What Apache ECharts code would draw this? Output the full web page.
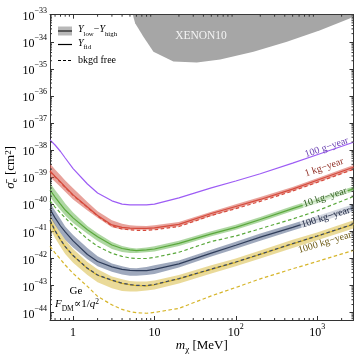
<!DOCTYPE html>
<html><head><meta charset="utf-8">
<script src="https://cdn.jsdelivr.net/npm/echarts@6/dist/echarts.min.js"></script>
<style>html,body{margin:0;padding:0;background:#fff}#c{width:357px;height:355px}</style>
</head><body><div id="c"></div>
<script>
// Dark-matter mass grid (MeV)
const mass = [0.52, 0.6, 0.7, 0.8, 1, 1.5, 2, 3, 4, 5, 6, 8, 10, 20, 50, 100, 200, 500, 1000, 2800];
// All cross sections below are log10(sigma_e / cm^2)
const g100Fid   = [-37.62,-37.81,-38.05,-38.29,-38.68,-39.25,-39.58,-39.87,-39.99,-40.02,-40.02,-40.02,-39.99,-39.76,-39.39,-39.14,-38.87,-38.48,-38.17,-37.71];

const kg1Fid    = [-38.77,-38.97,-39.17,-39.36,-39.65,-40.10,-40.41,-40.76,-40.85,-40.88,-40.89,-40.89,-40.87,-40.74,-40.34,-40.08,-39.82,-39.44,-39.11,-38.63];
const kg1Free   = [-38.79,-38.99,-39.19,-39.38,-39.67,-40.11,-40.43,-40.80,-40.91,-40.94,-40.96,-40.96,-40.94,-40.82,-40.41,-40.16,-39.89,-39.51,-39.19,-38.71];
const kg1Low    = [-38.99,-39.17,-39.36,-39.54,-39.82,-40.23,-40.50,-40.85,-40.93,-40.94,-40.94,-40.94,-40.93,-40.81,-40.43,-40.15,-39.87,-39.51,-39.19,-38.71];
const kg1High   = [-38.49,-38.71,-38.93,-39.12,-39.41,-39.91,-40.26,-40.59,-40.72,-40.77,-40.79,-40.80,-40.77,-40.65,-40.27,-40.00,-39.73,-39.36,-39.04,-38.55];

const kg10Fid   = [-39.47,-39.73,-39.99,-40.21,-40.50,-40.94,-41.20,-41.50,-41.63,-41.68,-41.71,-41.68,-41.65,-41.44,-41.09,-40.85,-40.56,-40.16,-39.86,-39.43];
const kg10Free  = [-39.87,-40.10,-40.32,-40.50,-40.80,-41.28,-41.55,-41.81,-41.92,-41.98,-42.00,-42.00,-41.96,-41.77,-41.37,-41.17,-40.90,-40.54,-40.24,-39.71];
const kg10Low   = [-39.73,-39.97,-40.21,-40.41,-40.69,-41.09,-41.35,-41.65,-41.76,-41.80,-41.80,-41.77,-41.74,-41.54,-41.18,-40.94,-40.65,-40.25,-39.97,-39.52];
const kg10High  = [-39.21,-39.47,-39.73,-39.97,-40.30,-40.80,-41.07,-41.39,-41.54,-41.60,-41.63,-41.59,-41.55,-41.34,-40.99,-40.75,-40.47,-40.06,-39.78,-39.34];

const kg100Fid  = [-40.17,-40.50,-40.80,-41.02,-41.35,-41.85,-42.11,-42.31,-42.40,-42.44,-42.45,-42.45,-42.40,-42.20,-41.80,-41.51,-41.21,-40.85,-40.56,-40.13];
const kg100Free = [-40.58,-40.97,-41.30,-41.56,-41.89,-42.36,-42.61,-42.80,-42.91,-42.96,-42.99,-43.00,-42.96,-42.74,-42.39,-42.13,-41.84,-41.45,-41.17,-40.73];
const kg100Low  = [-40.47,-40.76,-41.06,-41.31,-41.59,-42.03,-42.29,-42.49,-42.59,-42.64,-42.64,-42.61,-42.57,-42.33,-41.93,-41.64,-41.34,-40.97,-40.69,-40.25];
const kg100High = [-39.95,-40.24,-40.54,-40.82,-41.13,-41.61,-41.92,-42.18,-42.29,-42.35,-42.36,-42.31,-42.25,-42.07,-41.68,-41.38,-41.08,-40.72,-40.43,-40.00];

const kg1000Fid  = [-40.63,-40.98,-41.31,-41.57,-41.90,-42.37,-42.62,-42.81,-42.92,-42.97,-43.00,-43.01,-42.97,-42.75,-42.40,-42.14,-41.85,-41.46,-41.18,-40.74];
const kg1000Free = [-41.55,-41.79,-42.03,-42.24,-42.55,-43.03,-43.40,-43.71,-43.88,-43.96,-44.00,-44.02,-43.99,-43.84,-43.38,-43.07,-42.75,-42.38,-42.11,-41.70];
const kg1000Low  = [-40.89,-41.24,-41.57,-41.83,-42.16,-42.61,-42.88,-43.10,-43.20,-43.22,-43.22,-43.18,-43.14,-42.92,-42.55,-42.29,-42.00,-41.61,-41.33,-40.89];
const kg1000High = [-40.39,-40.72,-41.06,-41.31,-41.65,-42.13,-42.40,-42.66,-42.77,-42.83,-42.85,-42.85,-42.81,-42.61,-42.25,-42.00,-41.70,-41.31,-41.04,-40.59];

// XENON10 excluded region lower boundary
const xenonMass  = [5.42, 5.79, 7.32, 9.72, 17.1, 33.2, 64.3, 165, 425, 1091, 2553, 2800];
const xenonSigma = [-33.00,-33.32,-33.81,-34.37,-34.73,-34.76,-34.65,-34.37,-34.00,-33.57,-33.13,-33.00];

const X_MIN = Math.log10(0.52), X_MAX = Math.log10(2800);
const Y_MIN = -44.27, Y_MAX = -33;
const FONT = '"Liberation Serif","DejaVu Serif",serif';
const FRAME = '#333';

const lx = mass.map(m => Math.log10(m));

function lineSeries(vals, color, dashed, z) {
  return {
    type: 'line', silent: true, symbol: 'none', showSymbol: false, z: z || 4,
    data: vals.map((v, i) => [lx[i], v]),
    lineStyle: { color: color, width: 1.2, type: dashed ? [3.5, 2.5] : 'solid' }
  };
}
function bandSeries(lo, hi, color) {
  return {
    type: 'custom', silent: true, z: 2,
    data: lo.map((v, i) => [lx[i], lo[i], hi[i]]),
    encode: { x: 0, y: [1, 2] },
    renderItem: function (params, api) {
      if (params.dataIndex !== 0) return null;
      const pts = [];
      for (let i = 0; i < lx.length; i++) pts.push(api.coord([lx[i], hi[i]]));
      for (let i = lx.length - 1; i >= 0; i--) pts.push(api.coord([lx[i], lo[i]]));
      return { type: 'polygon', shape: { points: pts }, style: { fill: color } };
    }
  };
}

// minor (log) tick positions
const minorX = [];
for (let n = -1; n <= 3; n++) for (let k = 2; k <= 9; k++) { const v = n + Math.log10(k); if (v > X_MIN && v < X_MAX) minorX.push(v); }
const minorY = [];
for (let n = -45; n <= -34; n++) for (let k = 2; k <= 9; k++) { const v = n + Math.log10(k); if (v > Y_MIN && v < Y_MAX) minorY.push(v); }

const tickSeriesX = {
  type: 'custom', silent: true, z: 10, clip: false,
  data: minorX.map(v => [v, Y_MIN]), encode: { x: 0, y: 1 },
  renderItem: function (params, api) {
    const cs = params.coordSys; const x = api.coord([api.value(0), Y_MIN])[0];
    return { type: 'group', children: [
      { type: 'line', shape: { x1: x, y1: cs.y + cs.height, x2: x, y2: cs.y + cs.height - 2 }, style: { stroke: FRAME, lineWidth: 1 } },
      { type: 'line', shape: { x1: x, y1: cs.y, x2: x, y2: cs.y + 2 }, style: { stroke: FRAME, lineWidth: 1 } }
    ]};
  }
};
const tickSeriesY = {
  type: 'custom', silent: true, z: 10, clip: false,
  data: minorY.map(v => [X_MIN, v]), encode: { x: 0, y: 1 },
  renderItem: function (params, api) {
    const cs = params.coordSys; const y = api.coord([X_MIN, api.value(1)])[1];
    return { type: 'group', children: [
      { type: 'line', shape: { x1: cs.x, y1: y, x2: cs.x + 2, y2: y }, style: { stroke: FRAME, lineWidth: 1 } },
      { type: 'line', shape: { x1: cs.x + cs.width, y1: y, x2: cs.x + cs.width - 2, y2: y }, style: { stroke: FRAME, lineWidth: 1 } }
    ]};
  }
};

const labelRich = {
  b: { fontSize: 12, fontFamily: FONT, color: '#000', lineHeight: 16, verticalAlign: 'bottom' },
  s: { fontSize: 8, fontFamily: FONT, color: '#000', lineHeight: 8, verticalAlign: 'top' }
};
const nameRich = {
  i: { fontSize: 13, fontFamily: FONT, fontStyle: 'italic', color: '#000', lineHeight: 15, verticalAlign: 'top' },
  n: { fontSize: 13, fontFamily: FONT, color: '#000', lineHeight: 15, verticalAlign: 'top' },
  sub: { fontSize: 9, fontFamily: FONT, color: '#000', lineHeight: 9, verticalAlign: 'bottom' },
  sup: { fontSize: 9, fontFamily: FONT, color: '#000', lineHeight: 9, verticalAlign: 'top' }
};
function isInt(v) { return Math.abs(v - Math.round(v)) < 1e-6; }

const baseAxis = {
  type: 'value', splitLine: { show: false },
  axisLine: { show: true, onZero: false, lineStyle: { color: FRAME, width: 1 } },
  axisTick: { show: true, inside: true, length: 4, lineStyle: { color: FRAME, width: 1 } }
};

function zrRich(size) {
  return {
    i: { fontSize: size, fontFamily: FONT, fontStyle: 'italic', fill: '#000', lineHeight: size + 3, verticalAlign: 'top' },
    n: { fontSize: size, fontFamily: FONT, fill: '#000', lineHeight: size + 3, verticalAlign: 'top' },
    sub: { fontSize: size * 0.68, fontFamily: FONT, fill: '#000', lineHeight: size * 0.68, verticalAlign: 'bottom' },
    sup: { fontSize: size * 0.68, fontFamily: FONT, fill: '#000', lineHeight: size * 0.68, verticalAlign: 'top' }
  };
}
function curveLabel(text, x, y, deg, color, bg) {
  const st = { text: text, fill: color, font: '10px ' + FONT, align: 'center', verticalAlign: 'middle' };
  if (bg) { st.backgroundColor = bg; st.padding = [0, 1]; }
  return { type: 'text', x: x, y: y, rotation: deg * Math.PI / 180, z: 20, style: st };
}

const option = {
  animation: false,
  backgroundColor: '#fff',
  grid: { left: 50, right: 3.5, top: 14.7, bottom: 35, containLabel: false, outerBoundsMode: 'none' },
  xAxis: [
    Object.assign({}, baseAxis, {
      position: 'bottom', min: X_MIN, max: X_MAX, splitNumber: 4,
      axisLabel: { margin: 2.5, rich: labelRich,
        formatter: function (v) { if (!isInt(v)) return ''; const r = Math.round(v);
          if (r === 0) return '{b|1}'; if (r === 1) return '{b|10}'; return '{b|10}{s|' + r + '}'; } },
      name: '{i|m}{sub|χ}{n| [MeV]}', nameLocation: 'middle', nameGap: 19, nameMoveOverlap: false,
      nameTextStyle: { rich: nameRich }
    }),
    Object.assign({}, baseAxis, { position: 'top', min: X_MIN, max: X_MAX, splitNumber: 4, axisLabel: { show: false } })
  ],
  yAxis: [
    Object.assign({}, baseAxis, {
      position: 'left', min: Y_MIN, max: Y_MAX, splitNumber: 11,
      axisLabel: { margin: 3, rich: labelRich,
        formatter: function (v) { if (!isInt(v)) return ''; const r = Math.round(v);
          return '{b|10}{s|−' + (-r) + '}'; } },
      name: '{i|σ̄}{sub|e}{n| [cm}{sup|2}{n|]}', nameLocation: 'middle', nameGap: 31, nameRotate: 90, nameMoveOverlap: false,
      nameTextStyle: { rich: nameRich }
    }),
    Object.assign({}, baseAxis, { position: 'right', min: Y_MIN, max: Y_MAX, splitNumber: 11, axisLabel: { show: false } })
  ],
  series: [
    {
      type: 'line', silent: true, symbol: 'none', z: 1,
      data: xenonMass.map((m, i) => [Math.log10(m), xenonSigma[i]]),
      lineStyle: { width: 0, opacity: 0 },
      areaStyle: { origin: 'end', color: '#a6a6a6', opacity: 1 }
    },
    bandSeries(kg1000Low, kg1000High, 'rgba(216,188,70,0.55)'),
    bandSeries(kg100Low, kg100High, 'rgba(80,98,135,0.55)'),
    bandSeries(kg10Low, kg10High, 'rgba(100,178,76,0.52)'),
    bandSeries(kg1Low, kg1High, 'rgba(214,86,72,0.55)'),
    lineSeries(g100Fid, '#9d5cf5', false),
    lineSeries(kg1Free, '#d64a3c', true),
    lineSeries(kg1Fid, '#d64a3c', false),
    lineSeries(kg10Free, '#5aa83c', true),
    lineSeries(kg10Fid, '#5aa83c', false),
    lineSeries(kg1000Free, '#d6b52a', true),
    lineSeries(kg1000Fid, '#d6b52a', false),
    lineSeries(kg100Fid, '#2f3d5a', false),
    lineSeries(kg100Free, '#3a4866', true, 5),
    tickSeriesX, tickSeriesY
  ],
  graphic: [
    { type: 'rect', shape: { x: 58, y: 26.5, width: 14, height: 9 }, style: { fill: '#b8b8b8' }, z: 20 },
    { type: 'line', shape: { x1: 58, y1: 31, x2: 72, y2: 31 }, style: { stroke: '#3a3a3a', lineWidth: 1.5 }, z: 21 },
    { type: 'text', x: 78, y: 31, z: 21, style: { text: '{i|Y}{sub|low}{n|−}{i|Y}{sub|high}', rich: zrRich(10), verticalAlign: 'middle' } },
    { type: 'line', shape: { x1: 58, y1: 44.5, x2: 72, y2: 44.5 }, style: { stroke: '#000', lineWidth: 1.2 }, z: 21 },
    { type: 'text', x: 78, y: 44.5, z: 21, style: { text: '{i|Y}{sub|fid}', rich: zrRich(10), verticalAlign: 'middle' } },
    { type: 'line', shape: { x1: 58, y1: 60.5, x2: 72, y2: 60.5 }, style: { stroke: '#000', lineWidth: 1.2, lineDash: [3, 2] }, z: 21 },
    { type: 'text', x: 78, y: 60.5, z: 21, style: { text: 'bkgd free', font: '10px ' + FONT, fill: '#000', verticalAlign: 'middle' } },
    { type: 'text', x: 201, y: 36, z: 21, style: { text: 'XENON10', font: '11.5px ' + FONT, fill: '#f4f4f4', align: 'center', verticalAlign: 'middle' } },
    { type: 'text', x: 76, y: 291, z: 21, style: { text: 'Ge', font: '11px ' + FONT, fill: '#000', align: 'center', verticalAlign: 'middle' } },
    { type: 'text', x: 55, y: 306, z: 21, style: { text: '{i|F}{sub|DM}{n|∝1/}{i|q}{sup|2}', rich: zrRich(11), verticalAlign: 'middle' } },
    curveLabel('100 g−year', 326.7, 147.5, 19, '#6a40b2'),
    curveLabel('1 kg−year', 324.2, 167.5, 19, '#8e2a20'),
    curveLabel('10 kg−year', 325, 197.5, 18, '#2c5a1c', 'rgba(255,255,255,0.55)'),
    curveLabel('100 kg−year', 325.8, 217.5, 17.5, '#1c2540', 'rgba(255,255,255,0.55)'),
    curveLabel('1000 kg−year', 325, 242.5, 17, '#6b5810')
  ]
};
const chart = echarts.init(document.getElementById('c'));
chart.setOption(option);
</script></body></html>
